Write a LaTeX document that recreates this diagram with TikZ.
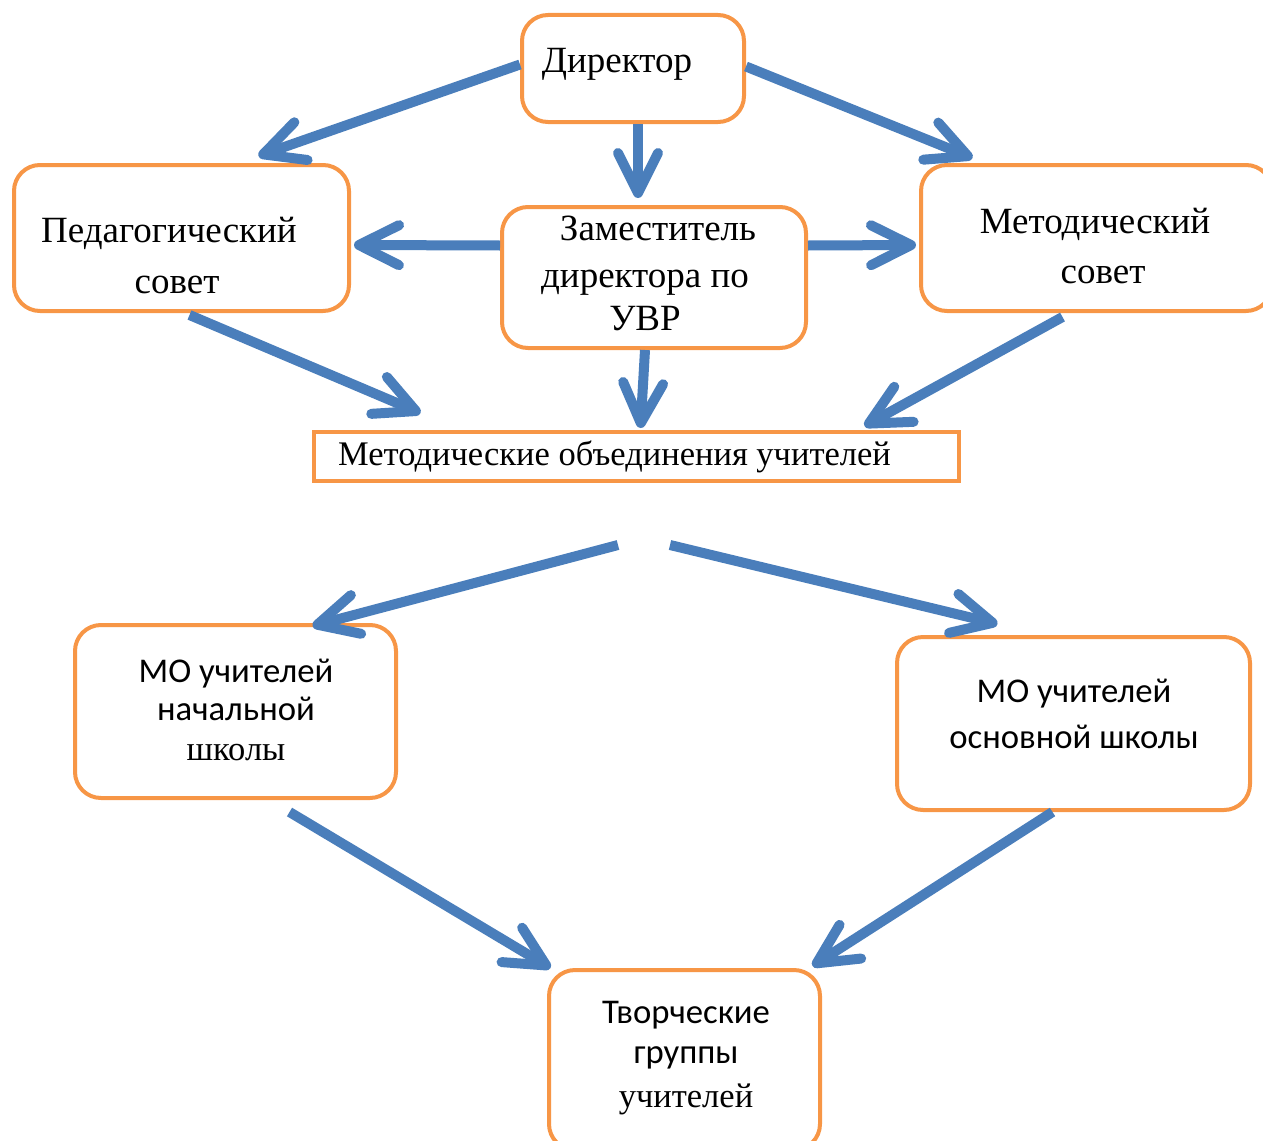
\documentclass[tikz,border=0pt]{standalone}
\usepackage{fontspec}
\setmainfont{Liberation Serif}
\newfontfamily\calib{Carlito}
\usetikzlibrary{arrows.meta,calc}
\definecolor{boxor}{HTML}{F79646}
\definecolor{arrbl}{HTML}{4A7EBB}
\begin{document}
\begin{tikzpicture}[x=1pt,y=-1pt,
  box/.style={draw=boxor, line width=4pt, rounded corners=26pt, fill=white, inner sep=0pt},
  sqbox/.style={draw=boxor, line width=4pt, fill=white, inner sep=0pt},
  ser/.style={font=\fontsize{37}{44}\selectfont, inner sep=0pt, anchor=base},
  sers/.style={font=\fontsize{34.5}{40}\selectfont, inner sep=0pt, anchor=base},
  san/.style={font=\calib\fontsize{34.7}{40}\selectfont, inner sep=0pt, anchor=base},
  arr/.style={draw=arrbl, line width=10pt, -{Straight Barb[length=40pt,width=40pt,round]}}]
\useasboundingbox (0,0) rectangle (1263,1140);
% boxes
\node[box, minimum width=222pt, minimum height=107pt] (dir) at (633,68.5) {};
\node[box, minimum width=335pt, minimum height=146pt] (ped) at (181.5,238) {};
\node[box, minimum width=304pt, minimum height=141pt] (zam) at (654,277.5) {};
\node[box, minimum width=351pt, minimum height=146pt] (met) at (1096.5,238) {};
\node[sqbox, minimum width=645pt, minimum height=49pt] (mou) at (636.5,456.5) {};
\node[box, minimum width=321pt, minimum height=173pt] (mon) at (235.5,711.5) {};
\node[box, minimum width=353pt, minimum height=173pt] (mos) at (1073.5,723.5) {};
\node[box, minimum width=271pt, minimum height=180pt] (tg) at (684.5,1060) {};
% texts
\node[ser] (dirT) at (617,73) {Директор};
\node[ser] (pedT1) at (169,242) {Педагогический};
\node[ser] (pedT2) at (177,293) {совет};
\node[ser] (zamT1) at (658,240) {Заместитель};
\node[ser] (zamT2) at (645,287) {директора по};
\node[ser] (zamT3) at (645,330) {УВР};
\node[ser] (metT1) at (1095,233) {Методический};
\node[ser] (metT2) at (1103,283) {совет};
\node[sers, anchor=base west] (mouT) at (338,465) {Методические объединения учителей};
\node[san] (monT1) at (236,682) {МО учителей};
\node[san] (monT2) at (236,720) {начальной};
\node[sers] (monT3) at (236,760) {школы};
\node[san] (mosT1) at (1074,702) {МО учителей};
\node[san] (mosT2) at (1074,748) {основной школы};
\node[san] (tgT1) at (686,1023) {Творческие};
\node[san] (tgT2) at (686,1063) {группы};
\node[sers] (tgT3) at (686,1107) {учителей};
% free starts
\coordinate (s1) at (618,545);
\coordinate (s2) at (670,545);
% arrows
\draw[arr] ($(dir.west)+(0,-4)$) -- ($(ped.north)+(77,-7)$);
\draw[arr] ($(dir.east)+(0,-2)$) -- ($(met.north)+(-124,-5)$);
\draw[arr] ($(dir.south)+(5,0)$) -- ($(zam.north)+(-16,-7)$);
\draw[arr] ($(zam.west)+(0,-32)$) -- ($(ped.east)+(3,7)$);
\draw[arr] ($(zam.east)+(0,-32)$) -- ($(met.west)+(-3,7)$);
\draw[arr] ($(ped.south)+(8,2)$) -- ($(mou.north)+(-216,-17)$);
\draw[arr] ($(zam.south)+(-9,0)$) -- ($(mou.north)+(4,-2)$);
\draw[arr] ($(met.south)+(-34,4)$) -- ($(mou.north)+(228,-4)$);
\draw[arr] (s1) -- ($(mon.north)+(77,3)$);
\draw[arr] (s2) -- ($(mos.north)+(-76,-11)$);
\draw[arr] ($(mon.south)+(54,12)$) -- ($(tg.north)+(-134,0)$);
\draw[arr] ($(mos.south)+(-21,0)$) -- ($(tg.north)+(128,-2)$);
\end{tikzpicture}
\end{document}
